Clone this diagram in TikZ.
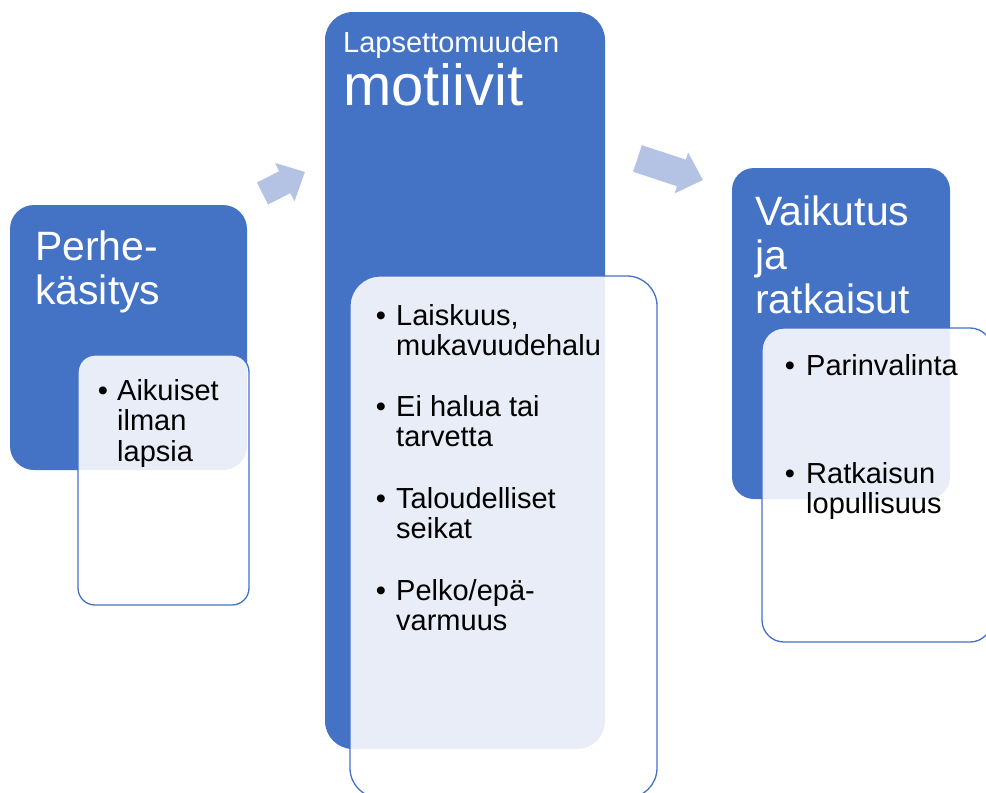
\documentclass[tikz,border=0pt]{standalone}
\usepackage{fontspec}
\setmainfont{Liberation Sans}
\definecolor{accent}{HTML}{4472C4}
\definecolor{arrowfill}{RGB}{180,194,228}
\tikzset{
  bluebox/.style={fill=accent, draw=none, inner sep=0pt},
  whitebox/.style={fill=white, fill opacity=0.88, draw=accent, line width=1.3pt, inner sep=0pt},
  hd/.style={text=white, inner sep=0pt, anchor=base west},
  hdbig/.style={hd, font=\fontsize{41}{44}\selectfont},
  bt/.style={text=black, inner sep=0pt, anchor=base west, font=\fontsize{29}{30}\selectfont},
  bul/.style={text=black, inner sep=0pt, anchor=base, font=\fontsize{29}{30}\selectfont},
  flowarrow/.style={fill=arrowfill, draw=none}
}
\begin{document}
\begin{tikzpicture}[x=1pt,y=-1pt]
\useasboundingbox (0,0) rectangle (986,793);
\clip (0,0) rectangle (986,793);
\fill[white] (0,0) rectangle (986,793);

% blue boxes
\node[bluebox, minimum width=237pt, minimum height=265pt, rounded corners=24pt] (b1) at (128.5,337.5) {};
\node[bluebox, minimum width=280pt, minimum height=737pt, rounded corners=28pt] (b2) at (465,380.5) {};
\node[bluebox, minimum width=218pt, minimum height=331pt, rounded corners=22pt] (b3) at (841,333.5) {};

% white boxes
\node[whitebox, minimum width=171pt, minimum height=250pt, rounded corners=17pt] (w1) at (163.5,480) {};
\node[whitebox, minimum width=307pt, minimum height=522pt, rounded corners=30pt] (w2) at (503.5,537) {};
\node[whitebox, minimum width=230pt, minimum height=314pt, rounded corners=22pt] (w3) at (877,485) {};

% flow arrows
\begin{scope}[shift={(262.5,193.5)}, rotate=27]
  \path[flowarrow] (0,-12.3) -- (25,-12.3) -- (25,-21.5) -- (47.6,0) -- (25,21.5) -- (25,12.3) -- (0,12.3) -- cycle;
\end{scope}
\begin{scope}[shift={(637.5,158.5)}, rotate=-18.2]
  \path[flowarrow] (0,-14) -- (46.2,-14) -- (46.2,-21.5) -- (68.9,0) -- (46.2,21.5) -- (46.2,14) -- (0,14) -- cycle;
\end{scope}

% headings
\node[hdbig] (h1a) at (35,260) {Perhe-};
\node[hdbig] (h1b) at (35,304) {käsitys};
\node[hd, font=\fontsize{29}{30}\selectfont] (h2a) at (343,52) {Lapsettomuuden};
\node[hd, font=\fontsize{58}{60}\selectfont] (h2b) at (343,105) {motiivit};
\node[hdbig] (h3a) at (755,225) {Vaikutus};
\node[hdbig] (h3b) at (755,269) {ja};
\node[hdbig] (h3c) at (755,313) {ratkaisut};

% bullets box 1
\node[bul] (p1) at (103,400) {•};
\node[bt] (t1a) at (117,400) {Aikuiset};
\node[bt] (t1b) at (117,430.5) {ilman};
\node[bt] (t1c) at (117,461) {lapsia};

% bullets box 2
\node[bul] (p2) at (381,325) {•};
\node[bt] (t2a) at (396,325) {Laiskuus,};
\node[bt] (t2b) at (396,355) {mukavuudehalu};
\node[bul] (p3) at (381,416.7) {•};
\node[bt] (t3a) at (396,416.7) {Ei halua tai};
\node[bt] (t3b) at (396,446.7) {tarvetta};
\node[bul] (p4) at (381,508.3) {•};
\node[bt] (t4a) at (396,508.3) {Taloudelliset};
\node[bt] (t4b) at (396,538.3) {seikat};
\node[bul] (p5) at (381,600) {•};
\node[bt] (t5a) at (396,600) {Pelko/epä-};
\node[bt] (t5b) at (396,630) {varmuus};

% bullets box 3
\node[bul] (p6) at (790,375) {•};
\node[bt] (t6a) at (806,375) {Parinvalinta};
\node[bul] (p7) at (790,483) {•};
\node[bt] (t7a) at (806,483) {Ratkaisun};
\node[bt] (t7b) at (806,513) {lopullisuus};
\end{tikzpicture}
\end{document}
